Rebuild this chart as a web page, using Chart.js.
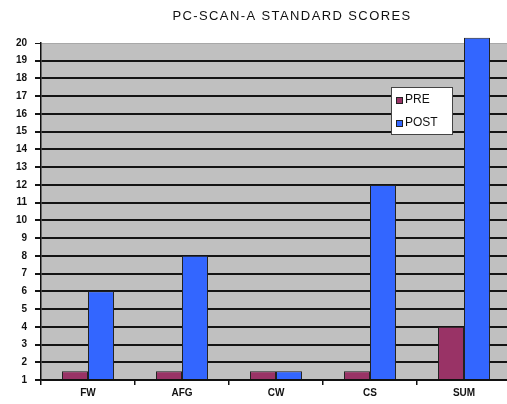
<!DOCTYPE html>
<html>
<head>
<meta charset="utf-8">
<script src="https://cdn.jsdelivr.net/npm/chart.js@4"></script>
<style>
  html, body { margin: 0; padding: 0; background: #fff; overflow: hidden; }
  #wrap { width: 512px; height: 404px; }
</style>
</head>
<body>
<div id="wrap"><canvas id="c" width="512" height="404"></canvas></div>
<script>
// Scores per scale, before and after
const categories = ['FW', 'AFG', 'CW', 'CS', 'SUM'];
const preScores = [1.5, 1.5, 1.5, 1.5, 4];
const postScores = [6, 8, 1.5, 12, 20.3];
const yTicks = [1, 2, 3, 4, 5, 6, 7, 8, 9, 10, 11, 12, 13, 14, 15, 16, 17, 18, 19, 20];
const titleText = 'PC-SCAN-A STANDARD SCORES';

const PRE_COLOR = '#993366';
const POST_COLOR = '#3366FF';

// Plot background fill
const plotBg = {
  id: 'plotBg',
  beforeDraw(chart) {
    const { ctx, chartArea: a } = chart;
    ctx.save();
    ctx.fillStyle = '#c0c0c0';
    ctx.fillRect(a.left, a.top, a.right - a.left, a.bottom - a.top);
    ctx.restore();
  }
};

// Title, centred a little right of the plot centre
const topTitle = {
  id: 'topTitle',
  afterDraw(chart) {
    const { ctx, chartArea: a } = chart;
    ctx.save();
    ctx.font = '13px "Liberation Sans", Arial, sans-serif';
    ctx.fillStyle = '#111';
    ctx.textAlign = 'center';
    ctx.textBaseline = 'middle';
    if ('letterSpacing' in ctx) ctx.letterSpacing = '1.4px';
    ctx.fillText(titleText, (a.left + a.right) / 2 + 16, 16);
    ctx.restore();
  }
};

// Boxed legend floating inside the plot
const boxLegend = {
  id: 'boxLegend',
  afterDraw(chart) {
    const { ctx, chartArea: a } = chart;
    const x = a.left + 350, y = a.top + 44, w = 62, h = 48;
    ctx.save();
    ctx.fillStyle = '#ffffff';
    ctx.strokeStyle = '#444';
    ctx.lineWidth = 1;
    ctx.fillRect(x, y, w, h);
    ctx.strokeRect(x + 0.5, y + 0.5, w - 1, h - 1);
    ctx.font = '12px "Liberation Sans", Arial, sans-serif';
    ctx.textBaseline = 'middle';
    chart.data.datasets.forEach((ds, i) => {
      const cy = y + 13 + i * 23;
      ctx.fillStyle = ds.backgroundColor;
      ctx.fillRect(x + 5, cy - 3, 7, 7);
      ctx.strokeStyle = '#222';
      ctx.strokeRect(x + 5.5, cy - 2.5, 6, 6);
      ctx.fillStyle = '#111';
      ctx.fillText(ds.label, x + 14, cy);
    });
    ctx.restore();
  }
};

new Chart(document.getElementById('c'), {
  type: 'bar',
  data: {
    labels: categories,
    datasets: [
      { label: 'PRE', data: preScores, base: 1, backgroundColor: PRE_COLOR, borderColor: '#222', borderWidth: 1, clip: false },
      { label: 'POST', data: postScores, base: 1, backgroundColor: POST_COLOR, borderColor: '#222', borderWidth: 1, clip: false }
    ]
  },
  options: {
    responsive: false,
    animation: false,
    devicePixelRatio: 1,
    layout: { padding: { top: 43, right: 1, left: 0, bottom: 0 } },
    datasets: { bar: { categoryPercentage: 0.553, barPercentage: 1 } },
    plugins: {
      legend: { display: false },
      title: { display: false },
      tooltip: { enabled: false }
    },
    scales: {
      x: {
        offset: true,
        grid: { display: true, drawOnChartArea: false, offset: true, tickLength: 5, color: '#111', lineWidth: 1.5 },
        border: { display: true, color: '#111', width: 1.5 },
        ticks: { color: '#111', font: { family: '"Liberation Sans", Arial, sans-serif', size: 10, weight: 'bold' }, padding: 2 },
        afterFit(s) { s.height = 24; }
      },
      y: {
        min: 1,
        max: 20,
        afterBuildTicks(s) { s.ticks = yTicks.map(v => ({ value: v })); },
        grid: {
          color: ctx => (ctx.tick && ctx.tick.value === 20 ? '#a8a8a8' : '#141414'),
          lineWidth: ctx => (ctx.tick && ctx.tick.value === 20 ? 1 : 2),
          tickColor: '#141414',
          tickLength: 6
        },
        border: { display: true, color: '#111', width: 1.5 },
        ticks: { color: '#111', font: { family: '"Liberation Sans", Arial, sans-serif', size: 10, weight: 'bold' }, padding: 8 },
        afterFit(s) { s.width = 41; }
      }
    }
  },
  plugins: [plotBg, topTitle, boxLegend]
});
</script>
</body>
</html>
